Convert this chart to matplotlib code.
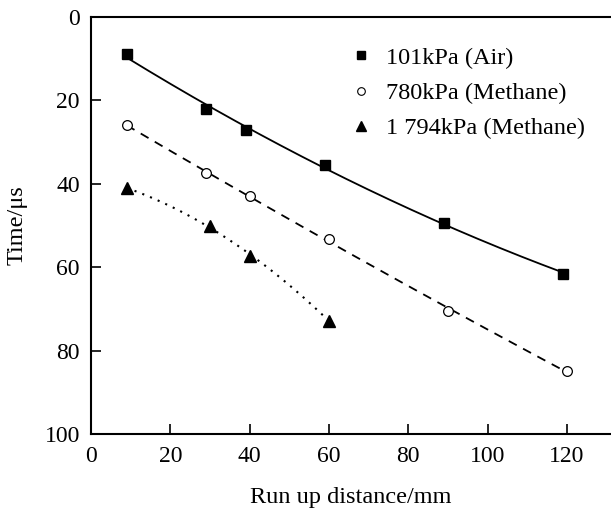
import numpy as np
import matplotlib
matplotlib.use("Agg")
import matplotlib.pyplot as plt
from matplotlib.lines import Line2D

plt.rcParams['font.family'] = ['Liberation Serif', 'DejaVu Serif']

air_x = [9, 29, 39, 59, 89, 119]
air_y = [8.9, 22.1, 27.0, 35.4, 49.3, 61.6]
m780_x = [9, 29, 40, 60, 90, 120]
m780_y = [26.0, 37.4, 42.9, 53.2, 70.6, 84.9]
m1794_x = [9, 30, 40, 60]
m1794_y = [41.1, 50.0, 57.4, 72.8]

labels = ['101kPa (Air)', '780kPa (Methane)', '1 794kPa (Methane)']

fig = plt.figure(figsize=(6.11, 5.13), dpi=100)
ax = fig.add_axes([91/611, 1 - 434/513, (611 - 91)/611, (434 - 17)/513])

def fit(xs, ys):
    c = np.polyfit(xs, ys, 2)
    xx = np.linspace(min(xs), max(xs), 200)
    return xx, np.polyval(c, xx)

xx, yy = fit(air_x, air_y)
ax.plot(xx, yy, color='black', lw=1.3, ls='-')
xx, yy = fit(m780_x, m780_y)
ax.plot(xx, yy, color='black', lw=1.3, ls=(0, (5, 4)))
xx, yy = fit(m1794_x, m1794_y)
ax.plot(xx, yy, color='black', lw=1.5, ls=(0, (1, 3)))

ax.plot(air_x, air_y, 's', color='black', ms=7, ls='none')
ax.plot(m780_x, m780_y, 'o', mfc='white', mec='black', mew=0.9, ms=7, ls='none')
ax.plot(m1794_x, m1794_y, '^', color='black', ms=8, ls='none')

handles = [
    Line2D([], [], marker='s', color='black', ms=5.5, ls='none'),
    Line2D([], [], marker='o', mfc='white', mec='black', mew=0.8, ms=5.5, ls='none'),
    Line2D([], [], marker='^', color='black', ms=6.5, ls='none'),
]

ax.set_xlim(0, (611 - 91) / ((567 - 91) / 120))
ax.set_ylim(100, 0)
ax.set_xticks([0, 20, 40, 60, 80, 100, 120])
ax.set_yticks([0, 20, 40, 60, 80, 100])
ax.tick_params(direction='in', length=7, width=1.2, labelsize=17, top=False, right=False)
ax.tick_params(axis='x', pad=9)
ax.tick_params(axis='y', pad=8)
ax.spines['right'].set_visible(False)
for s in ax.spines.values():
    s.set_linewidth(1.5)
ax.set_xlabel('Run up distance/mm', fontsize=17.5, labelpad=14)
ax.set_ylabel('Time/μs', fontsize=17.5, labelpad=12)

ax.legend(handles, labels, loc='upper left', bbox_to_anchor=(0.478, 0.952), frameon=False, fontsize=17.5,
          handlelength=1.0, handletextpad=0.5, labelspacing=0.55, borderaxespad=0.0)

fig.savefig('out.png', dpi=100)
